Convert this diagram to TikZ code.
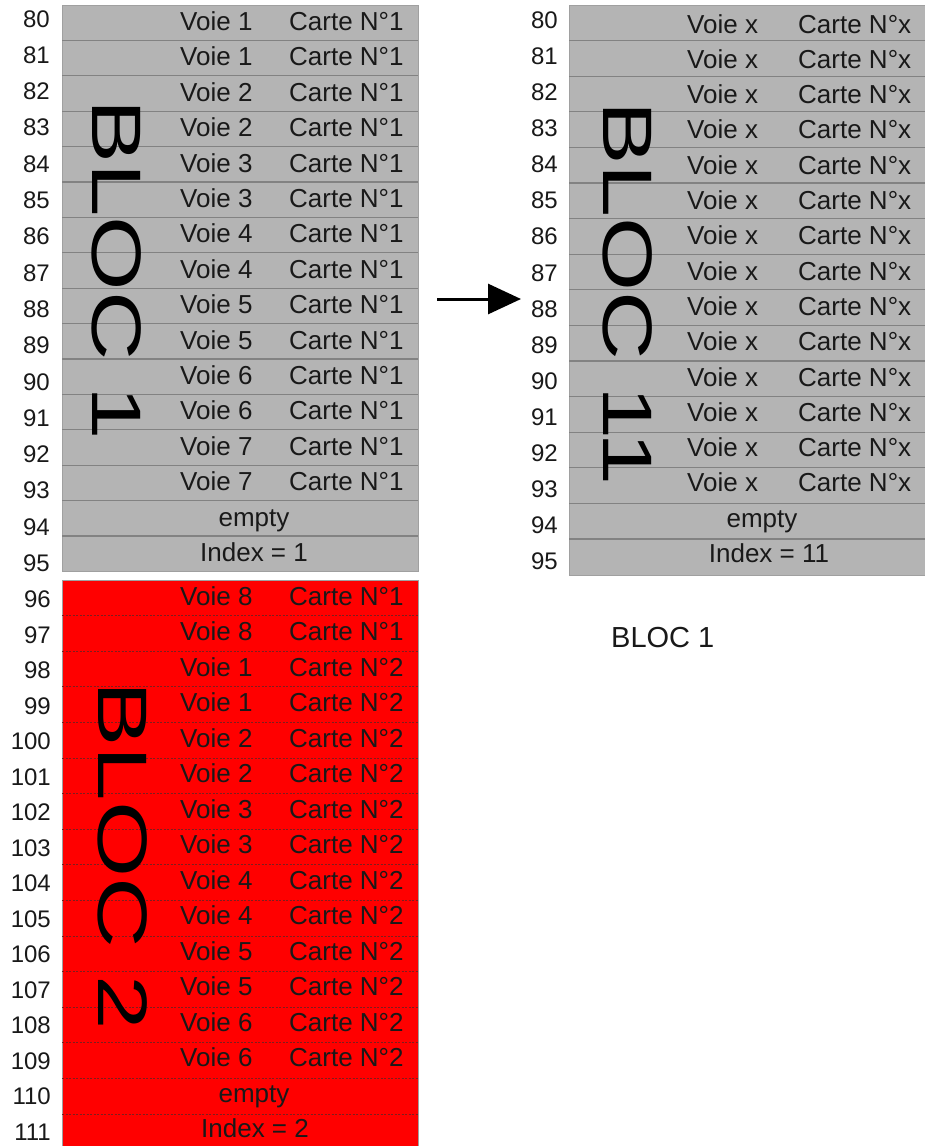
\documentclass[tikz,border=0pt]{standalone}
\usepackage{fontspec}
\setmainfont{Liberation Sans}
\usetikzlibrary{arrows.meta}
\definecolor{cellgray}{RGB}{180,180,180}
\definecolor{rulegray}{RGB}{130,130,130}
\definecolor{edgegray}{RGB}{160,160,160}
\definecolor{cellred}{RGB}{255,0,0}
\definecolor{rulered}{RGB}{125,30,30}
\definecolor{ink}{RGB}{25,25,25}

\begin{document}
\begin{tikzpicture}[x=1pt,y=-1pt,
  cell/.style={font=\fontsize{26}{30}\selectfont, text=ink, inner sep=0pt, anchor=base west},
  cellmid/.style={cell, anchor=base},
  num/.style={font=\fontsize{24}{28}\selectfont, text=ink, inner sep=0pt, anchor=base east},
  big/.style={font=\fontsize{70}{80}\selectfont, text=black, inner sep=0pt, anchor=base west, rotate=-90},
  table/.style={draw=edgegray, line width=1pt, inner sep=0pt, minimum width=#1, anchor=north west},
]
\useasboundingbox (0,0) rectangle (924,1146);

% ---------- block 1 (grey) ----------
\node[table=356pt, fill=cellgray, minimum height=566.4pt] (tabA) at (62,5) {};
\foreach \i in {1,...,15}
  \draw[rulegray, line width=1.2pt] (62,{5+35.4*\i}) -- (418,{5+35.4*\i});
\foreach \i in {0,...,13} {
  \pgfmathtruncatemacro\v{int(\i/2)+1}
  \node[cell] (av\i) at (180,{30.5+35.4*\i}) {Voie \v};
  \node[cell] (ac\i) at (289,{30.5+35.4*\i}) {Carte N°1};
}
\node[cellmid] (aempty) at (254,{30.5+35.4*14}) {empty};
\node[cellmid] (aindex) at (254,{30.5+35.4*15}) {Index = 1};
\foreach \i in {0,...,15} {
  \pgfmathtruncatemacro\n{80+\i}
  \node[num] (an\i) at (50,{27+36.3*\i}) {\n};
}
\node[big] (blocA) at (92,99) {\scalebox{1.37}[1]{BLOC 1}};

% ---------- block 2 (red) ----------
\node[table=356pt, fill=cellred, minimum height=569.6pt] (tabB) at (62,580) {};
\foreach \i in {1,...,15}
  \draw[rulered, line width=1pt, dash pattern=on 2pt off 1.5pt] (62,{580+35.6*\i}) -- (418,{580+35.6*\i});
\foreach \i in {0,1} {
  \node[cell] (bv\i) at (180,{605+35.5*\i}) {Voie 8};
  \node[cell] (bc\i) at (289,{605+35.5*\i}) {Carte N°1};
}
\foreach \i in {2,...,13} {
  \pgfmathtruncatemacro\v{int((\i-2)/2)+1}
  \node[cell] (bv\i) at (180,{605+35.5*\i}) {Voie \v};
  \node[cell] (bc\i) at (289,{605+35.5*\i}) {Carte N°2};
}
\node[cellmid] (bempty) at (254,{605+35.5*14}) {empty};
\node[cellmid] (bindex) at (255,{605+35.5*15}) {Index = 2};
\foreach \i in {0,...,15} {
  \pgfmathtruncatemacro\n{96+\i}
  \node[num] (bn\i) at (51,{607.7+35.5*\i}) {\n};
}
\node[big] (blocB) at (98,681) {\scalebox{1.4}[1]{BLOC 2}};

% ---------- block 11 (grey, right) ----------
\node[table=362pt, fill=cellgray, minimum height=569.6pt] (tabC) at (569,5) {};
\foreach \i in {1,...,15}
  \draw[rulegray, line width=1.2pt] (569,{5+35.6*\i}) -- (931,{5+35.6*\i});
\foreach \i in {0,...,13} {
  \node[cell] (cv\i) at (687,{33+35.3*\i}) {Voie x};
  \node[cell] (cc\i) at (798,{33+35.3*\i}) {Carte N°x};
}
\node[cellmid] (cempty) at (762,{33+35.3*14}) {empty};
\node[cellmid] (cindex) at (769,{33+35.3*15}) {Index = 11};
\foreach \i in {0,...,15} {
  \pgfmathtruncatemacro\n{80+\i}
  \node[num] (cn\i) at (558,{28.3+36.1*\i}) {\n};
}
\node[big] (blocC) at (603,101) {\scalebox{1.36}[1]{BLOC 11}};

% ---------- arrow and caption ----------
\coordinate (arrS) at (437,299);
\coordinate (arrE) at (521,299);
\draw[line width=3pt, -{Triangle[length=33pt,width=30pt]}] (arrS) -- (arrE);
\node[font=\fontsize{29}{34}\selectfont, text=ink, inner sep=0pt, anchor=base west] (caption) at (611,647) {BLOC 1};
\end{tikzpicture}
\end{document}
